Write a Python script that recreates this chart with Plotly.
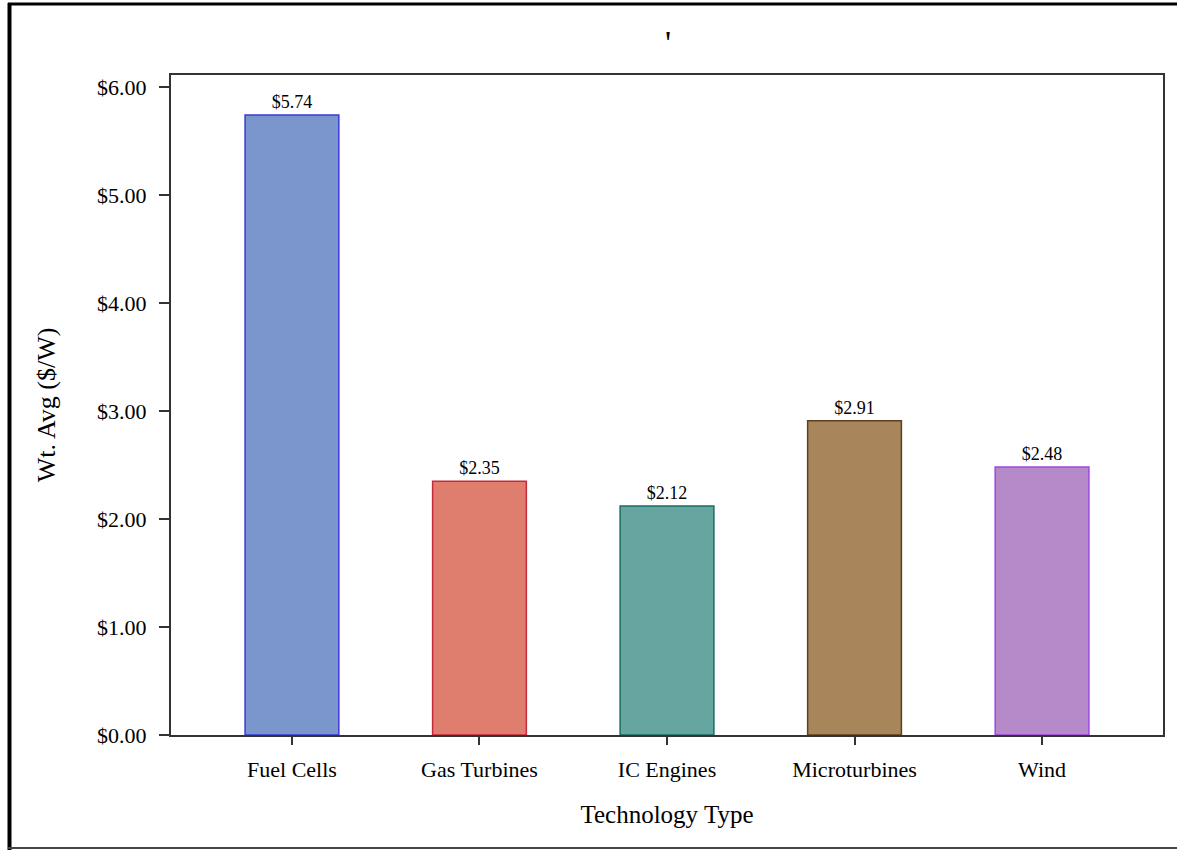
import plotly.graph_objects as go

categories = ["Fuel Cells", "Gas Turbines", "IC Engines", "Microturbines", "Wind"]
wt_avg = [5.74, 2.35, 2.12, 2.91, 2.48]
fill_colors = ["#7b96cc", "#df7e6e", "#66a6a0", "#a8855b", "#b689c9"]
edge_colors = ["#3a3ad8", "#c42a3c", "#1d6b62", "#5e3f1f", "#a046e0"]
y_ticks = [0, 1, 2, 3, 4, 5, 6]

FONT = "Liberation Serif, Times New Roman, serif"

fig = go.Figure(go.Bar(
    x=categories, y=wt_avg, width=0.5,
    marker=dict(color=fill_colors, line=dict(color=edge_colors, width=1.5)),
    texttemplate="%{y:$.2f}", textposition="outside",
    textfont=dict(family=FONT, size=18, color="black"),
    cliponaxis=False,
))

# plot area in pixels: left 171, right 1163, top 75, bottom 735
W, H = 1177, 850
L, R, T, B = 171, 1163, 75, 735
px = lambda v: (v - L) / (R - L)
py = lambda v: (B - v) / (B - T)

fig.update_layout(
    width=W, height=H,
    margin=dict(l=L, r=W - R, t=T, b=H - B),
    plot_bgcolor="white", paper_bgcolor="white",
    font=dict(family=FONT, color="black"),
    showlegend=False,
    title=dict(text="'", x=0.5675, xanchor="center", y=1 - 42 / H, yanchor="middle",
               font=dict(family=FONT, size=34, color="black")),
    xaxis=dict(
        range=[-0.645, 4.645], showline=True, linecolor="#333", linewidth=2, mirror=True,
        ticks="outside", ticklen=8, tickcolor="#333", tickwidth=1.5, ticklabelstandoff=6,
        tickfont=dict(size=22), title=dict(text="Technology Type", font=dict(size=25), standoff=24),
    ),
    yaxis=dict(
        range=[0, 6.11], tickvals=y_ticks, tickformat="$.2f",
        showline=True, linecolor="#333", linewidth=2, mirror=True, showgrid=False, zeroline=False,
        ticks="outside", ticklen=10, tickcolor="#333", tickwidth=1.5, ticklabelstandoff=8,
        tickfont=dict(size=22), title=dict(text="Wt. Avg ($/W)", font=dict(size=26), standoff=34),
    ),
    shapes=[
        dict(type="line", xref="paper", yref="paper", x0=px(9.5), x1=px(9.5), y0=py(3), y1=py(850),
             line=dict(color="black", width=4)),
        dict(type="line", xref="paper", yref="paper", x0=px(8), x1=px(1177), y0=py(4), y1=py(4),
             line=dict(color="black", width=3)),
        dict(type="line", xref="paper", yref="paper", x0=px(8), x1=px(1177), y0=py(848), y1=py(848),
             line=dict(color="#444", width=2)),
    ],
)

fig.write_html("out.html", config={"displayModeBar": False},
               post_script="document.body.style.margin='0';")
